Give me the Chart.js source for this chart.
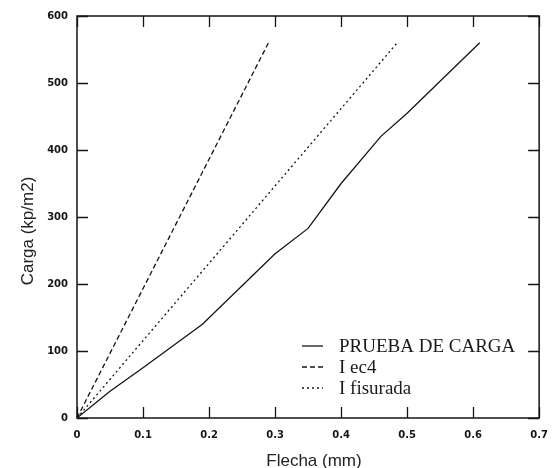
<!DOCTYPE html>
<html>
<head>
<meta charset="utf-8">
<script src="https://cdn.jsdelivr.net/npm/chart.js@4/dist/chart.umd.min.js"></script>
<style>
  html, body { margin: 0; padding: 0; background: #fff; }
  #wrap { width: 559px; height: 468px; }
</style>
</head>
<body>
<div id="wrap"><canvas id="c" width="559" height="468"></canvas></div>
<script>
// Load test: measured deflection vs. two theoretical stiffness predictions
const seriesNames = ['PRUEBA DE CARGA', 'I ec4', 'I fisurada'];

const flechaPrueba = [0, 0.05, 0.10, 0.19, 0.30, 0.35, 0.40, 0.46, 0.50, 0.61];
const cargaPrueba  = [0, 40,   75,   140,  245,  283,  350,  420,  455,  560];

const flechaEc4 = [0, 0.29];
const cargaEc4  = [0, 560];

const flechaFisurada = [0, 0.485];
const cargaFisurada  = [0, 560];

const xTickValues = [0, 0.1, 0.2, 0.3, 0.4, 0.5, 0.6, 0.7];
const xTickLabels = ['0', '0.1', '0.2', '0.3', '0.4', '0.5', '0.6', '0.7'];
const yTickValues = [0, 100, 200, 300, 400, 500, 600];
const yTickLabels = ['0', '100', '200', '300', '400', '500', '600'];

const xTitle = 'Flecha (mm)';
const yTitle = 'Carga (kp/m2)';

const toPoints = (xs, ys) => xs.map((x, i) => ({ x: x, y: ys[i] }));
const INK = '#151515';
const titleFont = '17px "Liberation Sans", Arial, sans-serif';

// Box frame, inward ticks on all four sides, legend and axis titles
const framePlugin = {
  id: 'framePlugin',
  afterDraw(chart) {
    const ctx = chart.ctx;
    const a = chart.chartArea;
    const xs = chart.scales.x, ys = chart.scales.y;
    const tl = 11;
    ctx.save();
    ctx.strokeStyle = INK;
    ctx.lineWidth = 1.5;
    ctx.strokeRect(a.left, a.top, a.right - a.left, a.bottom - a.top);
    ctx.lineWidth = 1.3;
    ctx.beginPath();
    xTickValues.forEach(v => {
      const px = Math.round(xs.getPixelForValue(v)) + 0.5;
      ctx.moveTo(px, a.bottom); ctx.lineTo(px, a.bottom - tl);
      ctx.moveTo(px, a.top);    ctx.lineTo(px, a.top + tl);
    });
    yTickValues.forEach(v => {
      const py = Math.round(ys.getPixelForValue(v)) + 0.5;
      ctx.moveTo(a.left, py);  ctx.lineTo(a.left + tl, py);
      ctx.moveTo(a.right, py); ctx.lineTo(a.right - tl, py);
    });
    ctx.stroke();

    // legend inside the lower right of the plot
    const lx0 = 302, lx1 = 323, tx = 339;
    const rows = [346, 367, 388];
    ctx.font = '19px "Liberation Serif", "Times New Roman", serif';
    ctx.textBaseline = 'middle';
    ctx.textAlign = 'left';
    chart.data.datasets.forEach((ds, i) => {
      const y = rows[i];
      ctx.strokeStyle = ds.borderColor;
      ctx.lineWidth = ds.borderWidth;
      ctx.setLineDash(ds.borderDash || []);
      ctx.beginPath();
      ctx.moveTo(lx0, y); ctx.lineTo(lx1, y);
      ctx.stroke();
      ctx.setLineDash([]);
      ctx.fillStyle = '#1a1a1a';
      ctx.fillText(ds.label, tx, y + 1);
    });

    // x axis title
    ctx.font = titleFont;
    ctx.fillStyle = '#222';
    ctx.textAlign = 'center';
    ctx.textBaseline = 'middle';
    ctx.fillText(xTitle, 314, 461);

    // y axis title
    ctx.translate(28, 231);
    ctx.rotate(-Math.PI / 2);
    ctx.fillText(yTitle, 0, 0);
    ctx.restore();
  }
};

const tickFont = { family: '"DejaVu Sans", Verdana, sans-serif', size: 10, weight: 'bold' };

new Chart(document.getElementById('c'), {
  type: 'scatter',
  data: {
    datasets: [
      {
        label: seriesNames[0],
        data: toPoints(flechaPrueba, cargaPrueba),
        showLine: true, borderColor: INK, borderWidth: 1.3,
        pointRadius: 0, tension: 0
      },
      {
        label: seriesNames[1],
        data: toPoints(flechaEc4, cargaEc4),
        showLine: true, borderColor: INK, borderWidth: 1.3, borderDash: [5, 3],
        pointRadius: 0, tension: 0
      },
      {
        label: seriesNames[2],
        data: toPoints(flechaFisurada, cargaFisurada),
        showLine: true, borderColor: INK, borderWidth: 1.3, borderDash: [2, 3],
        pointRadius: 0, tension: 0
      }
    ]
  },
  options: {
    responsive: false,
    animation: false,
    devicePixelRatio: 1,
    layout: { padding: { top: 16, right: 16, left: 0, bottom: 0 } },
    plugins: { legend: { display: false }, tooltip: { enabled: false } },
    scales: {
      x: {
        type: 'linear', min: 0, max: 0.7,
        afterBuildTicks: s => { s.ticks = xTickValues.map(v => ({ value: v })); },
        afterFit: s => { s.height = 50; },
        grid: { display: false, drawTicks: false },
        border: { display: false },
        ticks: {
          font: tickFont, color: INK, padding: 11, maxRotation: 0, autoSkip: false,
          callback: (v, i) => xTickLabels[i]
        }
      },
      y: {
        type: 'linear', min: 0, max: 600,
        afterBuildTicks: s => { s.ticks = yTickValues.map(v => ({ value: v })); },
        afterFit: s => { s.width = 77; },
        grid: { display: false, drawTicks: false },
        border: { display: false },
        ticks: {
          font: tickFont, color: INK, padding: 9, autoSkip: false,
          callback: (v, i) => yTickLabels[i]
        }
      }
    }
  },
  plugins: [framePlugin]
});
</script>
</body>
</html>
